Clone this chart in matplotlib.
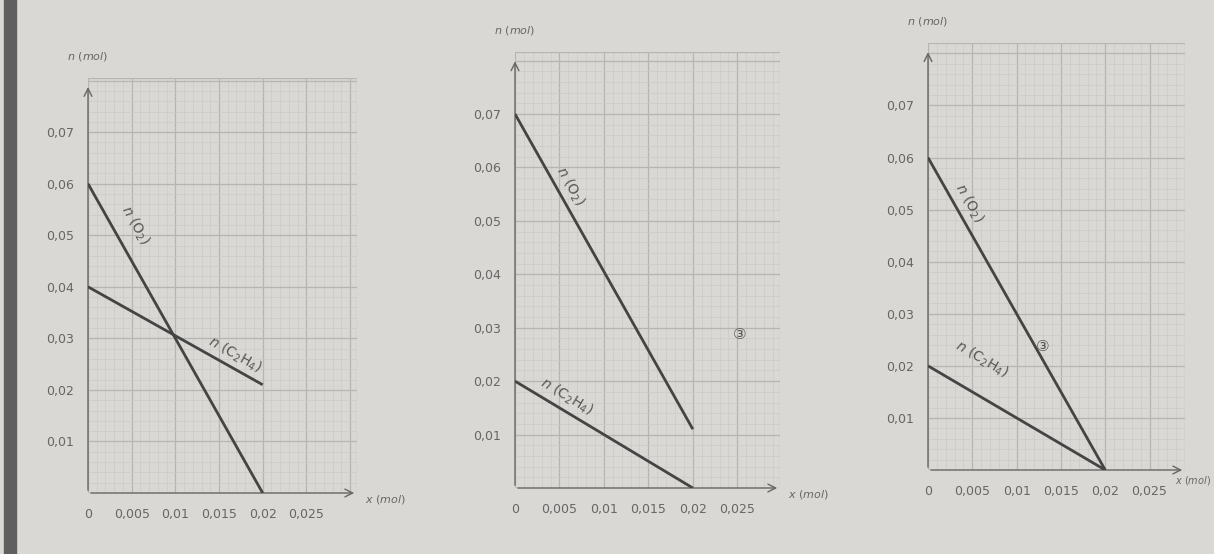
import matplotlib
matplotlib.use("Agg")
import matplotlib.pyplot as plt
from matplotlib.patches import Rectangle
import numpy as np

# ---- data ----
x_vals = [0.0, 0.02]
o2_1 = [0.06, 0.0]
c2h4_1 = [0.04, 0.021]
o2_2 = [0.07, 0.011]
c2h4_2 = [0.02, 0.0]
o2_3 = [0.06, 0.0]
c2h4_3 = [0.02, 0.0]

x_ticks = [0, 0.005, 0.01, 0.015, 0.02, 0.025]
x_ticklabels = ["0", "0,005", "0,01", "0,015", "0,02", "0,025"]
y_ticks = [0.01, 0.02, 0.03, 0.04, 0.05, 0.06, 0.07]
y_ticklabels = ["0,01", "0,02", "0,03", "0,04", "0,05", "0,06", "0,07"]

W, H = 1214, 554
BG = "#d9d8d4"
LINE = "#444444"
TXT = "#666666"
MINOR = "#cbcac6"
MAJOR = "#b6b5b1"

fig = plt.figure(figsize=(W / 100, H / 100), dpi=100, facecolor=BG)
fig.patches.append(Rectangle((4 / W, 0), 12 / W, 1, transform=fig.transFigure,
                             color="#5f5f5f", zorder=0))

# panel boxes in pixels: left, right, top, bottom ; limits
panels = [
    dict(box=(88, 357, 78, 493), xmax=0.0308, ymax=0.0805, o2=o2_1, c2=c2h4_1,
         o2lab=(0.0054, 0.052), c2lab=(0.0168, 0.0268), mark=None, xlab_in=False),
    dict(box=(515, 780, 52, 488), xmax=0.0298, ymax=0.0816, o2=o2_2, c2=c2h4_2,
         o2lab=(0.0062, 0.0564), c2lab=(0.0058, 0.0172), mark=(0.0253, 0.0287), xlab_in=False),
    dict(box=(928, 1185, 43, 470), xmax=0.029, ymax=0.082, o2=o2_3, c2=c2h4_3,
         o2lab=(0.0046, 0.0513), c2lab=(0.0060, 0.0212), mark=(0.0129, 0.0237), xlab_in=True),
]


def angle_of(ax, xs, ys):
    p = ax.transData.transform(np.column_stack([xs, ys]))
    d = p[1] - p[0]
    return np.degrees(np.arctan2(d[1], d[0]))


for p in panels:
    l, r, t, b = p["box"]
    ax = fig.add_axes([l / W, 1 - b / H, (r - l) / W, (b - t) / H])
    ax.set_facecolor("none")
    ax.set_xlim(0, p["xmax"])
    ax.set_ylim(0, p["ymax"])
    for s in ax.spines.values():
        s.set_visible(False)
    # graph paper
    for xv in np.arange(0, p["xmax"] + 1e-9, 0.001):
        major = abs(xv / 0.005 - round(xv / 0.005)) < 1e-6
        ax.axvline(xv, color=MAJOR if major else MINOR, lw=0.9 if major else 0.5, zorder=0)
    for yv in np.arange(0, p["ymax"] + 1e-9, 0.002):
        major = abs(yv / 0.01 - round(yv / 0.01)) < 1e-6
        ax.axhline(yv, color=MAJOR if major else MINOR, lw=0.9 if major else 0.5, zorder=0)
    ax.axvline(p["xmax"], color=MAJOR, lw=0.9, zorder=0)
    ax.axhline(p["ymax"], color=MAJOR, lw=0.9, zorder=0)

    # axes with arrows
    ax.annotate("", xy=(1.0, 0), xytext=(0, 0), xycoords="axes fraction",
                arrowprops=dict(arrowstyle="->", color="#666666", lw=1.0,
                                mutation_scale=14), annotation_clip=False)
    ax.annotate("", xy=(0, 0.985), xytext=(0, 0), xycoords="axes fraction",
                arrowprops=dict(arrowstyle="->", color="#666666", lw=1.0,
                                mutation_scale=14), annotation_clip=False)

    ax.set_xticks(x_ticks)
    ax.set_xticklabels(x_ticklabels)
    ax.set_yticks(y_ticks)
    ax.set_yticklabels(y_ticklabels)
    ax.tick_params(length=0, labelsize=9, labelcolor=TXT, pad=11)
    ax.tick_params(axis="y", pad=10)

    ax.plot(x_vals, p["o2"], color=LINE, lw=2.0, solid_capstyle="butt", zorder=3)
    ax.plot(x_vals, p["c2"], color=LINE, lw=2.0, solid_capstyle="butt", zorder=3)

    a1 = angle_of(ax, x_vals, p["o2"])
    a2 = angle_of(ax, x_vals, p["c2"])
    ax.text(*p["o2lab"], r"$n\ (\mathrm{O_2})$", rotation=a1, ha="center", va="center",
            fontsize=10, color="#555555", family="serif", rotation_mode="anchor")
    ax.text(*p["c2lab"], r"$n\ (\mathrm{C_2H_4})$", rotation=a2, ha="center", va="center",
            fontsize=10, color="#555555", family="serif", rotation_mode="anchor")
    if p["mark"] is not None:
        ax.text(*p["mark"], "\u2462", ha="center", va="center", fontsize=11,
                color="#555555", family="DejaVu Sans")

    ax.text(0, 1.035, r"$n\ (mol)$", transform=ax.transAxes, ha="center", va="bottom",
            fontsize=8, color=TXT)
    if p["xlab_in"]:
        fig.text(1211 / W, 1 - (b + 4) / H, r"$x\ (mol)$", ha="right", va="top",
                 fontsize=7, color=TXT)
    else:
        ax.text(1.03, 0, r"$x\ (mol)$", transform=ax.transAxes, ha="left", va="top",
                fontsize=8, color=TXT)

fig.savefig("out.png", dpi=100, facecolor=BG)
